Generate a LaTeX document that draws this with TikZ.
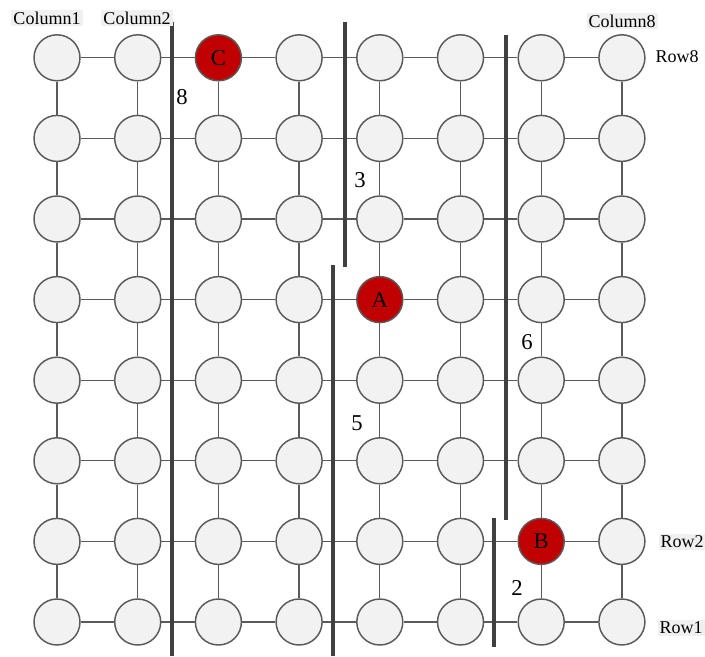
\documentclass[tikz,border=0pt]{standalone}
\usepackage{fontspec}
\setmainfont{Liberation Serif}
\definecolor{nodegray}{HTML}{F2F2F2}
\definecolor{edgegray}{HTML}{5A5A5A}
\definecolor{hotred}{HTML}{C00000}
\tikzset{
        gridnode/.style = {circle, draw=edgegray, fill=nodegray, line width=1.1pt,
            minimum size=34.5pt, inner sep=0pt, font=\fontsize{17}{17}\selectfont},
        rednode/.style = {gridnode, fill=hotred},
        link/.style = {draw=edgegray, line width=1pt},
        wall/.style = {draw=black!75, line width=3pt},
        axislabel/.style = {fill=black!6, inner sep=1.5pt,
            font=\fontsize{13.5}{13.5}\selectfont},
        wallnum/.style = {font=\fontsize{17}{17}\selectfont}
    }

\begin{document}
\begin{tikzpicture}[x=0.75pt, y=-0.75pt,
        hot-3-8/.style = {rednode, execute at begin node={C}},
        hot-5-5/.style = {rednode, execute at begin node={A}},
        hot-7-2/.style = {rednode, execute at begin node={B}}]
    \useasboundingbox (0,0) rectangle (705,656);
    % nodes
    \foreach \c in {1,...,8}
        \foreach \r in {1,...,8}
            \node [gridnode, hot-\c-\r/.try] (n-\c-\r)
                at ({57+(\c-1)*80.7}, {622-(\r-1)*80.6}) {};
    % links
    \foreach \c in {1,...,8}
        \foreach \r in {1,...,7} {
            \pgfmathtruncatemacro\nxt{\r+1}
            \draw [link] (n-\c-\r) -- (n-\c-\nxt);
            \draw [link] (n-\r-\c) -- (n-\nxt-\c);
        }
    % walls
    \draw [wall] (172,22) -- (172,656);
    \draw [wall] (345,22) -- (345,267);
    \draw [wall] (333,265) -- (333,656);
    \draw [wall] (506,35) -- (506,520);
    \draw [wall] (494,518) -- (494,647);
    \node [wallnum] (w8) at (182,97) {8};
    \node [wallnum] (w3) at (360,180) {3};
    \node [wallnum] (w5) at (357,423) {5};
    \node [wallnum] (w6) at (527,342) {6};
    \node [wallnum] (w2) at (517,588) {2};
    % axis labels
    \node [axislabel] (col1) at (47,18) {Column1};
    \node [axislabel] (col2) at (137,18) {Column2};
    \node [axislabel] (col8) at (622,21) {Column8};
    \node [axislabel, fill=none] (row8) at (677,57) {Row8};
    \node [axislabel] (row2) at (682,542) {Row2};
    \node [axislabel] (row1) at (681,628) {Row1};
\end{tikzpicture}
\end{document}
